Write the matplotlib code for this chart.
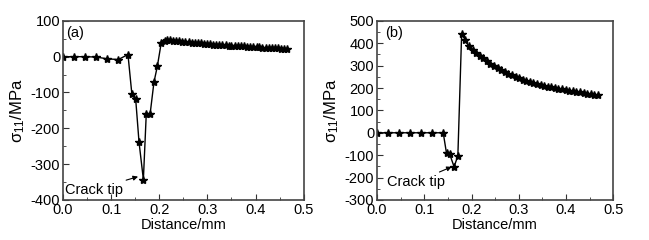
import matplotlib.pyplot as plt
from matplotlib.ticker import MultipleLocator

plt.rcParams['font.family'] = ['Liberation Sans', 'DejaVu Sans']
plt.rcParams['mathtext.default'] = 'regular'
plt.rcParams['axes.unicode_minus'] = False

# panel (a)
xa = [0.0, 0.023, 0.046, 0.069, 0.092, 0.115, 0.135, 0.143, 0.151, 0.158, 0.167,
      0.173, 0.181, 0.189, 0.196, 0.204, 0.211,
      0.216, 0.222, 0.229, 0.235, 0.242, 0.248, 0.254, 0.261, 0.267, 0.274,
      0.280, 0.286, 0.293, 0.299, 0.306, 0.312, 0.318, 0.325, 0.331, 0.338,
      0.344, 0.350, 0.357, 0.363, 0.370, 0.376, 0.382, 0.389, 0.395, 0.402,
      0.408, 0.414, 0.421, 0.427, 0.434, 0.440, 0.446, 0.453, 0.459, 0.466]
ya = [0, 0, 0, -1, -6, -8, 6, -103, -118, -239, -343,
      -160, -160, -71, -27, 38, 45,
      47, 46, 45, 44, 43, 42, 41, 40, 39, 38,
      37.5, 37, 36, 35.5, 35, 34, 33.5, 33, 32.5, 32,
      31, 30.5, 30, 29.5, 29, 28.5, 28, 27.5, 27, 26.5,
      26, 25.5, 25, 24.5, 24, 23.5, 23, 22.5, 22, 22]

# panel (b)
xb = [0.0, 0.023, 0.046, 0.069, 0.093, 0.116, 0.140, 0.147, 0.154, 0.163, 0.171,
      0.179, 0.187, 0.194,
      0.202, 0.210, 0.217, 0.225, 0.232, 0.240, 0.248, 0.255, 0.263, 0.270,
      0.278, 0.286, 0.293, 0.301, 0.308, 0.316, 0.324, 0.331, 0.339, 0.346,
      0.354, 0.362, 0.369, 0.377, 0.384, 0.392, 0.400, 0.407, 0.415, 0.422,
      0.430, 0.438, 0.445, 0.453, 0.460, 0.467]
yb = [0, 0, 0, 0, 0, 0, 0, -92, -97, -152, -103,
      443, 413, 387,
      372, 358, 345, 332, 320, 309, 299, 290, 281, 272,
      264, 257, 250, 244, 238, 232, 227, 222, 218, 214,
      210, 206, 203, 200, 197, 194, 191, 188, 185, 182,
      180, 177, 175, 172, 170, 168]

fig = plt.figure(figsize=(6.49, 2.4), dpi=100)
ax1 = fig.add_axes([0.097, 0.167, 0.371, 0.746])
ax2 = fig.add_axes([0.581, 0.167, 0.364, 0.746])

def style(ax, ylim, major, minor):
    ax.set_xlim(0, 0.5)
    ax.set_ylim(*ylim)
    ax.xaxis.set_major_locator(MultipleLocator(0.1))
    ax.xaxis.set_minor_locator(MultipleLocator(0.05))
    ax.yaxis.set_major_locator(MultipleLocator(major))
    ax.yaxis.set_minor_locator(MultipleLocator(minor))
    ax.tick_params(which='both', direction='in', labelsize=10.5, pad=2,
                   color='#333333')
    ax.tick_params(which='major', length=4)
    ax.tick_params(which='minor', length=2)
    for s in ax.spines.values():
        s.set_color('#444444')
        s.set_linewidth(1.2)
    ax.set_xlabel('Distance/mm', fontsize=10.5, labelpad=1)
    ax.set_ylabel('σ$_{11}$/MPa', fontsize=12, labelpad=3)
    ax.xaxis.set_major_formatter(plt.FormatStrFormatter('%.1f'))

ax1.plot(xa, ya, color='black', lw=1, marker='*', ms=6)
style(ax1, (-400, 100), 100, 50)
ax1.text(0.007, 67, '(a)', fontsize=10.5, va='center')
ax1.annotate('Crack tip', xy=(0.156, -335), xytext=(0.005, -371),
             fontsize=10.5, va='center',
             arrowprops=dict(arrowstyle='-|>', color='black', lw=0.8,
                             mutation_scale=7, shrinkA=0, shrinkB=0))

ax2.plot(xb, yb, color='black', lw=1, marker='*', ms=6)
style(ax2, (-300, 500), 100, 50)
ax2.text(0.018, 448, '(b)', fontsize=10.5, va='center')
ax2.annotate('Crack tip', xy=(0.158, -152), xytext=(0.022, -219),
             fontsize=10.5, va='center',
             arrowprops=dict(arrowstyle='-|>', color='black', lw=0.8,
                             mutation_scale=7, shrinkA=0, shrinkB=0))

fig.savefig('out.png', dpi=100)
